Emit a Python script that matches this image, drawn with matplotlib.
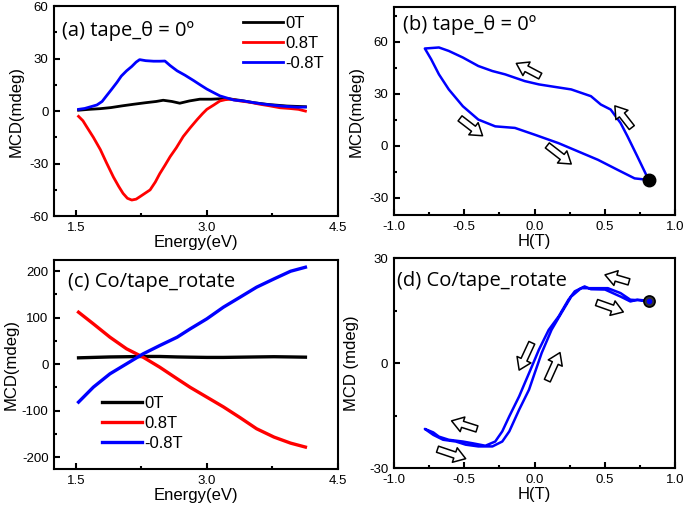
import numpy as np
import matplotlib
matplotlib.use("Agg")
import matplotlib.pyplot as plt
from matplotlib.ticker import MultipleLocator, FormatStrFormatter

plt.rcParams["font.family"] = ["Liberation Sans", "DejaVu Sans"]

LABEL_FONT = ["Open Sans", "Lato", "DejaVu Sans"]

# (a) spectra, tape, theta = 0
energy_a_0t = [1.53, 1.65, 1.78, 1.90, 2.03, 2.16, 2.30, 2.42, 2.50, 2.60, 2.69, 2.80,
               2.92, 3.05, 3.23, 3.40, 3.54, 3.70, 3.92, 4.13]
mcd_a_0t = [0.5, 1.0, 1.4, 2.0, 3.0, 3.9, 4.8, 5.5, 6.2, 5.5, 4.5, 5.8,
            6.8, 6.8, 7.2, 6.0, 4.8, 3.8, 2.9, 2.5]
energy_a_pos = [1.53, 1.58, 1.62, 1.70, 1.78, 1.85, 1.93, 1.99, 2.04, 2.09, 2.14, 2.19,
                2.23, 2.29, 2.35, 2.41, 2.46, 2.52, 2.58, 2.65, 2.73, 2.81, 2.89, 2.95,
                3.00, 3.08, 3.15, 3.21, 3.27, 3.38, 3.50, 3.61, 3.72, 3.84, 3.95, 4.05,
                4.13]
mcd_a_pos = [-3.0, -5.5, -8.7, -15.0, -22.0, -29.5, -37.7, -43.0, -47.0, -49.8, -50.8,
             -50.3, -49.0, -47.0, -45.0, -40.5, -35.8, -31.0, -26.0, -21.0, -14.5, -9.5,
             -4.8, -1.5, 1.0, 3.5, 5.8, 6.5, 6.8, 5.8, 5.0, 3.9, 3.0, 1.9, 1.5, 1.0, 0.0]
energy_a_neg = [1.53, 1.60, 1.67, 1.74, 1.80, 1.85, 1.91, 1.97, 2.02, 2.08, 2.14, 2.19,
                2.23, 2.30, 2.39, 2.46, 2.52, 2.58, 2.66, 2.75, 2.85, 2.93, 3.00, 3.08,
                3.15, 3.23, 3.31, 3.42, 3.54, 3.65, 3.77, 3.87, 3.96, 4.05, 4.13]
mcd_a_neg = [1.0, 1.5, 2.5, 3.5, 5.5, 8.7, 12.5, 16.4, 20.0, 23.0, 25.5, 28.0,
             29.4, 28.8, 28.5, 28.5, 28.6, 26.0, 23.0, 20.5, 17.4, 14.8, 12.6, 10.5,
             8.7, 7.5, 6.3, 5.8, 4.8, 4.0, 3.3, 2.8, 2.5, 2.2, 2.3]

# (b) loop, tape, theta = 0 (starts at +0.8 T, sweeps down then back up)
field_b = [0.81, 0.73, 0.66, 0.61, 0.54, 0.47, 0.40, 0.26, 0.14, 0.03, -0.07, -0.21,
           -0.30, -0.40, -0.51, -0.61, -0.68, -0.78,
           -0.735, -0.68, -0.61, -0.51, -0.40, -0.28, -0.14, 0.0, 0.17, 0.31, 0.45,
           0.59, 0.71, 0.81]
mcd_b = [-19.7, -6.2, 5.4, 13.2, 20.9, 23.8, 28.6, 32.5, 34.0, 35.4, 37.3, 41.2,
         43.1, 46.0, 50.9, 54.7, 56.7, 56.1,
         49.9, 41.2, 32.5, 22.8, 15.1, 11.2, 10.3, 6.4, 1.5, -3.3, -8.1,
         -13.9, -18.8, -19.7]

# (c) spectra, Co/tape rotated
energy_c = [1.53, 1.70, 1.89, 2.08, 2.27, 2.46, 2.66, 2.81, 3.00, 3.19, 3.38, 3.57,
            3.77, 3.96, 4.13]
mcd_c_0t = [13.6, 14.5, 15.5, 16.0, 16.5, 16.5, 15.5, 15.0, 14.5, 14.5, 15.0, 15.5,
            16.0, 15.5, 15.0]
mcd_c_pos = [111.8, 86.7, 58.0, 33.0, 15.0, -6.5, -31.5, -50.0, -71.0, -92.0, -115.0,
             -139.0, -157.0, -170.0, -178.5]
mcd_c_neg = [-81.7, -49.5, -20.8, 0.7, 22.2, 40.0, 58.0, 76.0, 97.5, 122.6, 144.0,
             165.6, 183.5, 200.0, 208.6]

# (d) loop, Co/tape rotated
field_d = [0.81, 0.73, 0.68, 0.61, 0.50, 0.40, 0.355, 0.285, 0.24, 0.17, 0.10, 0.03,
           -0.02, -0.07, -0.11, -0.18, -0.23, -0.28, -0.35, -0.44, -0.51, -0.61,
           -0.68, -0.72, -0.78,
           -0.72, -0.65, -0.56, -0.49, -0.40, -0.30, -0.23, -0.18, -0.11, -0.04,
           0.0, 0.05, 0.12, 0.19, 0.26, 0.33, 0.42, 0.52, 0.61, 0.68, 0.81]
mcd_d = [17.8, 18.1, 17.6, 19.0, 21.0, 21.1, 21.9, 20.5, 18.1, 13.3, 9.5, 3.8,
         -1.0, -5.7, -9.5, -15.2, -19.5, -22.4, -23.6, -22.9, -22.4, -21.9,
         -21.0, -19.8, -18.8,
         -20.5, -21.9, -22.4, -23.3, -23.8, -23.8, -22.4, -19.5, -13.3, -7.6,
         -2.9, 2.9, 9.5, 14.3, 19.0, 21.4, 21.4, 21.4, 20.0, 18.1, 17.8]

# hollow sweep arrows: (tail, head) in data coordinates
arrows_b = [((0.04, 40.2), (-0.13, 47.5)), ((0.69, 10.5), (0.57, 23.0)),
            ((-0.53, 15.8), (-0.37, 5.8)), ((0.09, 0.2), (0.26, -10.5))]
arrows_d = [((0.67, 23.2), (0.50, 25.2)), ((0.44, 17.3), (0.63, 14.6)),
            ((-0.02, 5.8), (-0.11, -2.0)), ((0.09, -5.0), (0.18, 3.0)),
            ((-0.41, -18.8), (-0.59, -16.5)), ((-0.69, -24.6), (-0.49, -27.3))]

series_labels = ["0T", "0.8T", "-0.8T"]
series_colors = ["black", "#ff0000", "#0000ff"]


def style_axes(ax, xmajor, xminor, ymajor, yminor, xfmt, yfmt):
    ax.xaxis.set_major_locator(MultipleLocator(xmajor))
    ax.xaxis.set_minor_locator(MultipleLocator(xminor))
    ax.yaxis.set_major_locator(MultipleLocator(ymajor))
    ax.yaxis.set_minor_locator(MultipleLocator(yminor))
    ax.xaxis.set_major_formatter(FormatStrFormatter(xfmt))
    ax.yaxis.set_major_formatter(FormatStrFormatter(yfmt))
    ax.tick_params(which="both", direction="in", top=False, right=False,
                   labelsize=9.5, width=1.5)
    ax.tick_params(which="major", length=4, pad=4)
    ax.tick_params(which="minor", length=2.5)
    for spine in ax.spines.values():
        spine.set_linewidth(1.5)


def draw_arrows(ax, arrows):
    for tail, head in arrows:
        ax.annotate("", xy=head, xytext=tail,
                    arrowprops=dict(arrowstyle="simple,head_length=0.75,head_width=1.0,tail_width=0.42",
                                    fc="white", ec="black", lw=1.1,
                                    shrinkA=0, shrinkB=0, mutation_scale=11))


fig = plt.figure(figsize=(6.85, 5.05), dpi=100)
ax_a = fig.add_axes([0.079, 0.572, 0.414, 0.416])
ax_b = fig.add_axes([0.575, 0.574, 0.411, 0.412])
ax_c = fig.add_axes([0.079, 0.071, 0.414, 0.414])
ax_d = fig.add_axes([0.575, 0.073, 0.411, 0.416])

legend_kw = dict(loc="upper left", frameon=False, fontsize=12, handlelength=2.4,
                 handletextpad=0.15, labelspacing=0.3, borderpad=0, borderaxespad=0)

# (a)
for e, m, lab, col in [(energy_a_0t, mcd_a_0t, series_labels[0], series_colors[0]),
                       (energy_a_pos, mcd_a_pos, series_labels[1], series_colors[1]),
                       (energy_a_neg, mcd_a_neg, series_labels[2], series_colors[2])]:
    ax_a.plot(e, m, color=col, lw=2.0, label=lab)
ax_a.set_xlim(1.25, 4.5)
ax_a.set_ylim(-60, 60)
style_axes(ax_a, 1.5, 0.75, 30, 15, "%.1f", "%d")
ax_a.set_xlabel("Energy(eV)", fontsize=12, labelpad=1)
ax_a.set_ylabel("MCD(mdeg)", fontsize=12, labelpad=4)
ax_a.text(0.028, 0.88, "(a) tape_θ = 0º", transform=ax_a.transAxes,
          fontsize=14.5, family=LABEL_FONT, va="center")
ax_a.legend(bbox_to_anchor=(0.665, 0.955), **legend_kw)

# (b)
ax_b.plot(field_b, mcd_b, color="#0000ff", lw=1.8)
ax_b.plot([field_b[0]], [mcd_b[0]], marker="o", ms=9, color="black")
draw_arrows(ax_b, arrows_b)
ax_b.set_xlim(-1.0, 1.0)
ax_b.set_ylim(-40, 80)
style_axes(ax_b, 0.5, 0.25, 30, 15, "%.1f", "%d")
ax_b.set_xlabel("H(T)", fontsize=12, labelpad=1)
ax_b.set_ylabel("MCD(mdeg)", fontsize=12, labelpad=4)
ax_b.text(0.032, 0.913, "(b) tape_θ = 0º", transform=ax_b.transAxes,
          fontsize=14.5, family=LABEL_FONT, va="center")

# (c)
for m, lab, col in zip([mcd_c_0t, mcd_c_pos, mcd_c_neg], series_labels, series_colors):
    ax_c.plot(energy_c, m, color=col, lw=2.4, label=lab)
ax_c.set_xlim(1.25, 4.5)
ax_c.set_ylim(-226, 224)
style_axes(ax_c, 1.5, 0.75, 100, 50, "%.1f", "%d")
ax_c.set_xlabel("Energy(eV)", fontsize=12, labelpad=1)
ax_c.set_ylabel("MCD(mdeg)", fontsize=12, labelpad=2)
ax_c.text(0.05, 0.895, "(c) Co/tape_rotate", transform=ax_c.transAxes,
          fontsize=14.5, family=LABEL_FONT, va="center")
ax_c.legend(bbox_to_anchor=(0.169, 0.352), **legend_kw)

# (d)
ax_d.plot(field_d, mcd_d, color="#0000ff", lw=1.8)
ax_d.plot([field_d[0]], [mcd_d[0]], marker="o", ms=8, mfc="#333333", mec="black", mew=1.2)
ax_d.plot([field_d[0]], [mcd_d[0]], marker="o", ms=3, color="#0000ff")
draw_arrows(ax_d, arrows_d)
ax_d.set_xlim(-1.0, 1.0)
ax_d.set_ylim(-30, 30)
style_axes(ax_d, 0.5, 0.25, 30, 15, "%.1f", "%d")
ax_d.set_xlabel("H(T)", fontsize=12, labelpad=1)
ax_d.set_ylabel("MCD (mdeg)", fontsize=12, labelpad=7)
ax_d.text(0.01, 0.89, "(d) Co/tape_rotate", transform=ax_d.transAxes,
          fontsize=14.5, family=LABEL_FONT, va="center")

fig.savefig("out.png", dpi=100)
